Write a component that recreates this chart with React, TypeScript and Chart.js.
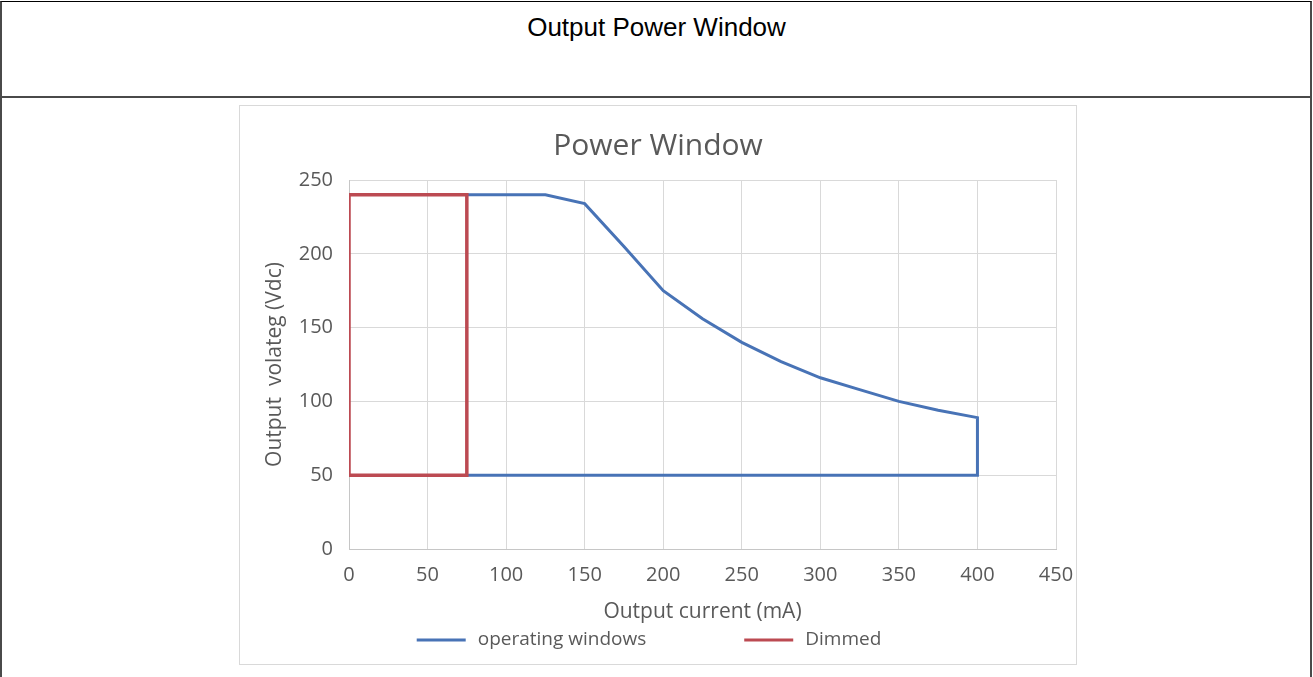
import React, { useEffect, useRef } from "react";
import { Chart, registerables } from "chart.js";

Chart.register(...registerables);

// ---- Text ----
const pageTitle = "Output Power Window";
const chartTitle = "Power Window";
const xAxisTitle = "Output current (mA)";
const yAxisTitle = "Output  volateg (Vdc)";
const seriesNames = ["operating windows", "Dimmed"];

// ---- Axis ranges / ticks ----
const xMin = 0;
const xMax = 450;
const xStep = 50;
const yMin = 0;
const yMax = 250;
const yStep = 50;

// ---- Data ----
const operatingCurrent = [75, 125, 150, 175, 200, 225, 250, 275, 300, 325, 350, 375, 400, 400, 75];
const operatingVoltage = [240, 240, 234, 205, 175, 156, 140, 127, 116, 108, 100, 94, 89, 50, 50];
const dimmedCurrent = [0, 0, 75, 75, 0];
const dimmedVoltage = [50, 240, 240, 50, 50];

const seriesColors = ["#4873B6", "#BC4A52"];

const FONT = "'Open Sans', 'Noto Sans', sans-serif";
const TEXT_GRAY = "#595959";

const legendPlugin = {
  id: "excelLegend",
  afterDraw(chart: any) {
    const ctx = chart.ctx as CanvasRenderingContext2D;
    ctx.save();
    ctx.font = `19px ${FONT}`;
    const lineLen = 49;
    const textGap = 12;
    const itemGap = 98;
    const items = chart.data.datasets.map((ds: any) => ({
      text: ds.label as string,
      color: ds.borderColor as string,
      w: lineLen + textGap + ctx.measureText(ds.label).width,
    }));
    const total = items.reduce((s: number, it: any) => s + it.w, 0) + itemGap * (items.length - 1);
    const centerX = 409;
    const y = 534;
    let x = centerX - total / 2;
    items.forEach((it: any) => {
      ctx.strokeStyle = it.color;
      ctx.lineWidth = 3;
      ctx.beginPath();
      ctx.moveTo(x, y);
      ctx.lineTo(x + lineLen, y);
      ctx.stroke();
      ctx.fillStyle = TEXT_GRAY;
      ctx.textBaseline = "middle";
      ctx.textAlign = "left";
      ctx.fillText(it.text, x + lineLen + textGap, y);
      x += it.w + itemGap;
    });
    ctx.restore();
  },
};

function PowerChart() {
  const ref = useRef<HTMLCanvasElement | null>(null);
  useEffect(() => {
    if (!ref.current) return;
    const toPoints = (xs: number[], ys: number[]) => xs.map((x, i) => ({ x, y: ys[i] }));
    const chart = new Chart(ref.current, {
      type: "line",
      data: {
        datasets: [
          {
            label: seriesNames[0],
            data: toPoints(operatingCurrent, operatingVoltage),
            borderColor: seriesColors[0],
            backgroundColor: seriesColors[0],
            borderWidth: 3,
            pointRadius: 0,
            tension: 0,
            fill: false,
            order: 1,
            borderJoinStyle: "miter",
          },
          {
            label: seriesNames[1],
            data: toPoints(dimmedCurrent, dimmedVoltage),
            borderColor: seriesColors[1],
            backgroundColor: seriesColors[1],
            borderWidth: 3.5,
            pointRadius: 0,
            tension: 0,
            fill: false,
            order: 0,
            borderJoinStyle: "miter",
            clip: { left: 0, top: 10, right: 10, bottom: 10 },
          },
        ],
      },
      options: {
        responsive: false,
        animation: false,
        devicePixelRatio: 1,
        layout: { padding: { left: 0, right: 0, top: 0, bottom: 0 } },
        plugins: {
          legend: { display: false },
          tooltip: { enabled: false },
          title: {
            display: true,
            text: chartTitle,
            color: TEXT_GRAY,
            font: { family: FONT, size: 30, weight: "normal" },
            padding: { top: 22, bottom: 16 },
          },
        },
        scales: {
          x: {
            type: "linear",
            min: xMin,
            max: xMax,
            afterFit: (scale: any) => {
              scale.height = 115;
              scale.paddingLeft = 0;
              scale.paddingRight = 20;
            },
            ticks: {
              stepSize: xStep,
              color: TEXT_GRAY,
              font: { family: FONT, size: 20 },
              padding: 14,
              maxRotation: 0,
            },
            grid: { color: "#d9d9d9", lineWidth: 1, drawTicks: false },
            border: { color: "#c6c6c6", width: 1 },
            title: {
              display: true,
              text: xAxisTitle,
              color: TEXT_GRAY,
              font: { family: FONT, size: 21 },
              padding: { top: 0, bottom: 39 },
            },
          },
          y: {
            type: "linear",
            min: yMin,
            max: yMax,
            afterFit: (scale: any) => {
              scale.width = 109;
            },
            ticks: {
              stepSize: yStep,
              color: TEXT_GRAY,
              font: { family: FONT, size: 20 },
              padding: 16,
            },
            grid: { color: "#d9d9d9", lineWidth: 1, drawTicks: false },
            border: { color: "#c6c6c6", width: 1 },
            title: {
              display: true,
              text: yAxisTitle,
              color: TEXT_GRAY,
              font: { family: FONT, size: 21 },
              padding: { top: 22, bottom: 0 },
            },
          },
        },
      },
      plugins: [legendPlugin],
    } as any);
    return () => chart.destroy();
  }, []);
  return (
    <canvas
      ref={ref}
      width={836}
      height={558}
      style={{ position: "absolute", left: 240, top: 106, width: 836, height: 558 }}
    />
  );
}

export default function App() {
  return (
    <div
      style={{
        position: "fixed",
        left: 0,
        top: 0,
        width: 1313,
        height: 677,
        background: "#ffffff",
        overflow: "hidden",
      }}
    >
      {/* outer table frame */}
      <div
        style={{
          position: "absolute",
          left: 0,
          top: 1,
          width: 1312,
          height: 720,
          boxSizing: "border-box",
          borderTop: "1px solid #000",
          borderLeft: "2px solid #4a4a4a",
          borderRight: "2px solid #4a4a4a",
        }}
      />
      <div
        style={{
          position: "absolute",
          left: 0,
          top: 96,
          width: 1312,
          height: 0,
          borderTop: "2px solid #4a4a4a",
        }}
      />
      <div
        style={{
          position: "absolute",
          left: 0,
          top: 14,
          width: 1313,
          textAlign: "center",
          fontFamily: "'Liberation Sans', Arial, sans-serif",
          fontSize: 26,
          lineHeight: "26px",
          color: "#000",
        }}
      >
        {pageTitle}
      </div>
      {/* chart picture frame */}
      <div
        style={{
          position: "absolute",
          left: 239,
          top: 105,
          width: 838,
          height: 560,
          boxSizing: "border-box",
          border: "1px solid #d9d9d9",
        }}
      />
      <PowerChart />
    </div>
  );
}
